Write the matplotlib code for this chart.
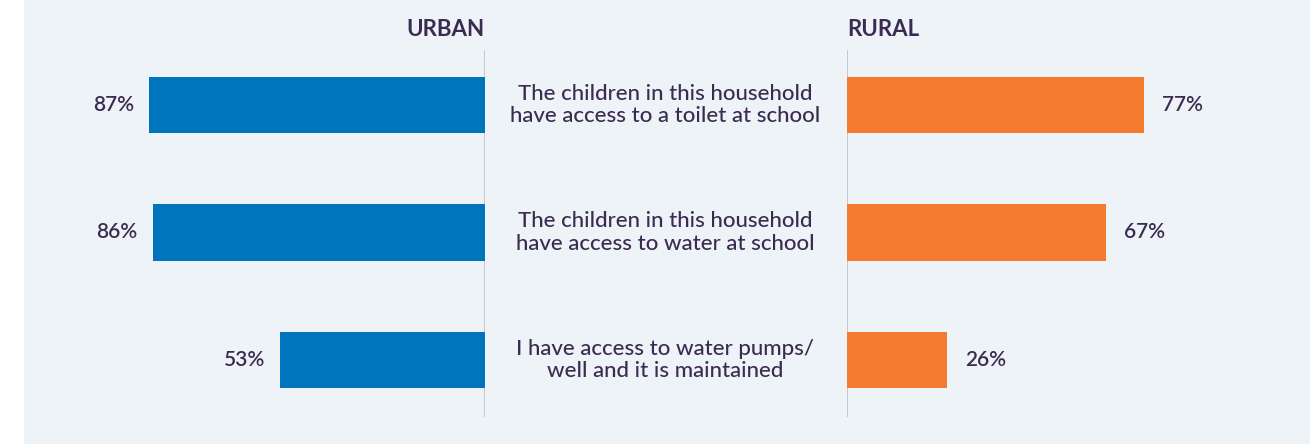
import matplotlib.pyplot as plt
import matplotlib.transforms as mtransforms
from matplotlib.patches import Rectangle

# Datos
preguntas = [
    "The children in this household\nhave access to a toilet at school",
    "The children in this household\nhave access to water at school",
    "I have access to water pumps/\nwell and it is maintained",
]
urbano = [87, 86, 53]
rural = [77, 67, 26]

azul = "#0074bd"
naranja = "#f37a2e"
fondo = "#eef3f8"
texto = "#3b2b50"
linea = "#c5c9cf"

plt.rcParams["font.family"] = ["Lato", "DejaVu Sans"]

W, H = 1316, 446
fig = plt.figure(figsize=(W / 100, H / 100), dpi=100)
fig.patch.set_facecolor("white")
# panel de fondo
fig.patches.append(Rectangle((24 / W, 2 / H), 1286 / W, 444 / H, transform=fig.transFigure,
                             facecolor=fondo, edgecolor="none", zorder=-5))

escala = 386  # px por 100%
y0, y1 = 50, 417  # extension vertical de los ejes (px desde arriba)
ax_u = fig.add_axes([(485 - escala) / W, 1 - y1 / H, escala / W, (y1 - y0) / H])
ax_r = fig.add_axes([847 / W, 1 - y1 / H, escala / W, (y1 - y0) / H])

pos = list(range(len(preguntas)))
paso = 127.5
ylim = (2 + (y1 - 360) / paso, -(105 - y0) / paso)

for ax in (ax_u, ax_r):
    ax.set_facecolor("none")
    ax.set_ylim(*ylim)
    for s in ax.spines.values():
        s.set_visible(False)
    ax.set_xticks([])
    ax.set_yticks([])

ax_u.set_xlim(100, 0)
ax_r.set_xlim(0, 100)
ax_u.barh(pos, urbano, height=0.44, color=azul)
ax_r.barh(pos, rural, height=0.44, color=naranja)
ax_u.axvline(0, color=linea, lw=1.5, zorder=0)
ax_r.axvline(0, color=linea, lw=1.5, zorder=0)

for p, v in zip(pos, urbano):
    ax_u.annotate(f"{v}%", (v, p), xytext=(-11, 0), textcoords="offset points",
                  ha="right", va="center", fontsize=15, color=texto, fontweight="semibold")
for p, v in zip(pos, rural):
    ax_r.annotate(f"{v}%", (v, p), xytext=(13, 0), textcoords="offset points",
                  ha="left", va="center", fontsize=15, color=texto, fontweight="semibold")

# textos centrales
trans = mtransforms.blended_transform_factory(fig.transFigure, ax_r.transData)
for p, t in zip(pos, preguntas):
    fig.text(665 / W, p, t, transform=trans, ha="center", va="center", fontsize=16,
             color=texto, linespacing=1.15, fontweight="medium")

# encabezados
fig.text(485 / W, 1 - 30 / H, "URBAN", ha="right", va="center", fontsize=16,
         fontweight="bold", color=texto)
fig.text(847 / W, 1 - 30 / H, "RURAL", ha="left", va="center", fontsize=16,
         fontweight="bold", color=texto)

plt.savefig("out.png", dpi=100, facecolor=fig.get_facecolor())
